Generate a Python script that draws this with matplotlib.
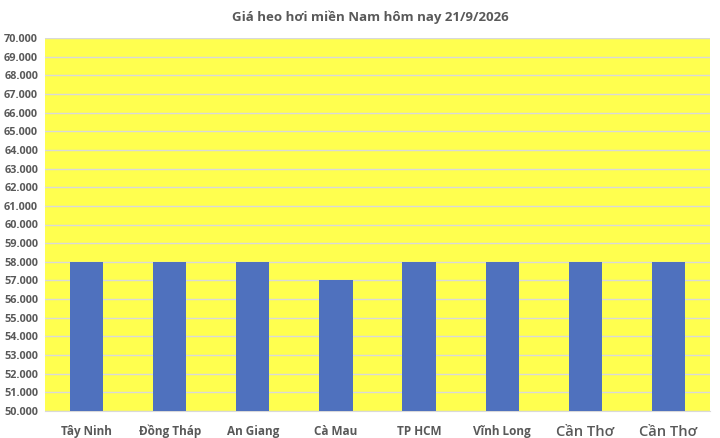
import matplotlib
matplotlib.use('Agg')
import matplotlib.pyplot as plt
from matplotlib.ticker import FuncFormatter, MultipleLocator

plt.rcParams['font.family'] = ['Open Sans', 'DejaVu Sans']

# Data
provinces = ['Tây Ninh', 'Đồng Tháp', 'An Giang', 'Cà Mau',
             'TP HCM', 'Vĩnh Long', 'Cần Thơ', 'Cần Thơ']
prices = [58000, 58000, 58000, 57000, 58000, 58000, 58000, 58000]
title = 'Giá heo hơi miền Nam hôm nay 21/9/2026'

fig = plt.figure(figsize=(7.2, 4.38), dpi=100)
ax = fig.add_axes([45 / 720, 27 / 438, 665 / 720, 373 / 438])
ax.set_facecolor('#FFFF4F')

x = range(len(provinces))
ax.bar(x, prices, width=0.4, color='#4F71BE', zorder=3)

ax.set_ylim(50000, 70000)
ax.set_xlim(-0.5, len(provinces) - 0.5)
ax.yaxis.set_major_locator(MultipleLocator(1000))
ax.yaxis.set_major_formatter(FuncFormatter(lambda v, p: f'{v:,.0f}'.replace(',', '.')))
ax.grid(axis='y', color='#D9D9D9', linewidth=1, zorder=0)

ax.set_xticks(list(x))
ax.set_xticklabels(provinces)
for i, lbl in enumerate(ax.get_xticklabels()):
    lbl.set_color('#595959')
    if i >= 6:
        lbl.set_fontsize(10.5)
        lbl.set_fontweight('semibold')
    else:
        lbl.set_fontsize(8.5)
        lbl.set_fontweight('bold')
for lbl in ax.get_yticklabels():
    lbl.set_fontweight('bold')
    lbl.set_color('#595959')
    lbl.set_fontsize(7.8)

ax.tick_params(axis='both', length=0)
ax.tick_params(axis='x', pad=10)
ax.tick_params(axis='y', pad=5)
for side in ['top', 'right', 'left']:
    ax.spines[side].set_visible(False)
ax.spines['bottom'].set_color('#D9D9D9')

fig.text(370 / 720, 1 - 17 / 438, title, ha='center', va='center',
         fontsize=9.5, fontweight='bold', color='#595959')

fig.savefig('out.png', dpi=100, facecolor='white')
plt.close(fig)
